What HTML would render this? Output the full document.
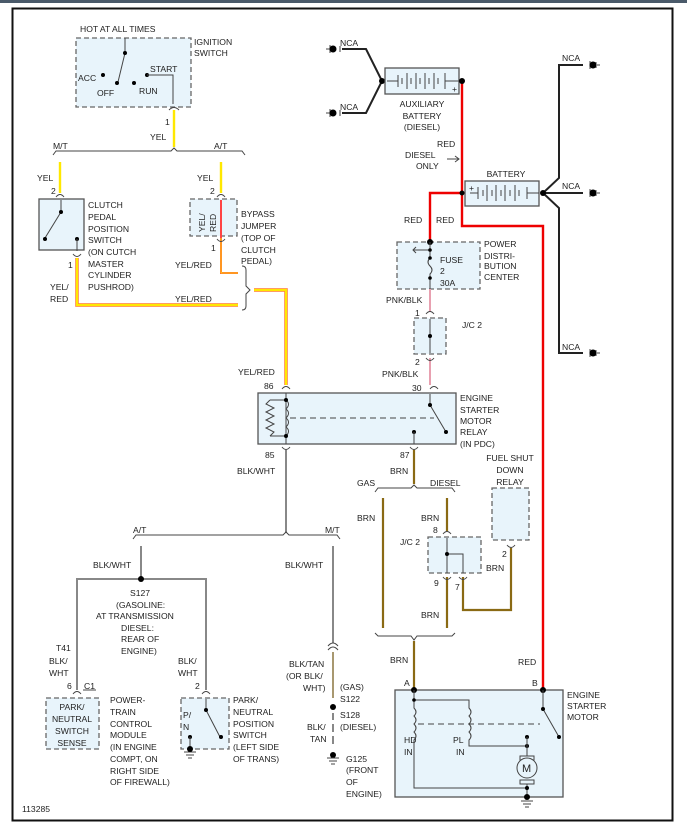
<!DOCTYPE html>
<html><head><meta charset="utf-8"><style>
html,body{margin:0;padding:0;background:#fff}
svg{display:block}
text{font-family:"Liberation Sans",Arial,sans-serif;font-size:8.6px;fill:#222}
.b{fill:#e8f4fb;stroke:#666;stroke-width:1.3;stroke-dasharray:5,3}
.s{fill:#e8f4fb;stroke:#555;stroke-width:1.3}
.g{stroke:#888;stroke-width:2;fill:none}
.k{stroke:#222;stroke-width:2;fill:none}
.br{stroke:#8a6a14;stroke-width:2.2;fill:none}
.r{stroke:#e00;stroke-width:2.4;fill:none}
.y{stroke:#ffe800;stroke-width:2.4;fill:none}
.pk{stroke:#e8a0b0;stroke-width:2;fill:none}
.t{stroke:#444;stroke-width:1;fill:none}
</style></head><body>
<svg width="687" height="831" viewBox="0 0 687 831" xmlns="http://www.w3.org/2000/svg">
<rect x="0" y="0" width="687" height="3" fill="#4a5a6a"/>
<rect x="12.5" y="8.5" width="660" height="812" fill="none" stroke="#111" stroke-width="2"/>

<!-- Ignition switch -->
<rect class="b" x="76" y="38" width="115" height="69"/>
<text x="80" y="32">HOT AT ALL TIMES</text>
<text x="194" y="45">IGNITION</text><text x="194" y="56">SWITCH</text>
<path class="t" d="M125 38 V53 L118 82"/><circle cx="125" cy="53" r="2"/><circle cx="117" cy="83" r="2"/>
<circle cx="103" cy="75" r="2"/><circle cx="134" cy="83" r="2"/><circle cx="147" cy="75" r="2"/>
<path class="t" d="M147 75 H173 V104"/>
<text x="78" y="81">ACC</text><text x="97" y="96">OFF</text><text x="139" y="94">RUN</text><text x="150" y="72">START</text>
<path class="y" d="M174 110 V147"/><path class="t" d="M169 110 q5 -5 10 0"/>
<text x="165" y="125">1</text><text x="150" y="140">YEL</text>
<path class="t" d="M53 155 l3 -4 H171 l3 -3 l3 3 H242 l3 4"/>
<text x="53" y="149">M/T</text><text x="214" y="149">A/T</text>

<!-- clutch switch -->
<path class="y" d="M60 162 V193"/>
<text x="37" y="181">YEL</text><text x="51" y="194">2</text>
<path class="t" d="M56 197 q4 -5 8 0"/>
<rect class="s" x="39" y="199" width="45" height="51"/>
<path class="t" d="M61 200 V210 M61 212 L45 238"/><circle cx="61" cy="212" r="2"/><circle cx="45" cy="239" r="2"/><circle cx="77" cy="239" r="2"/>
<path class="t" d="M77 239 V251"/>
<text x="88" y="208">CLUTCH</text><text x="88" y="220">PEDAL</text><text x="88" y="232">POSITION</text><text x="88" y="243">SWITCH</text><text x="88" y="255">(ON CUTCH</text><text x="88" y="267">MASTER</text><text x="88" y="278">CYLINDER</text><text x="88" y="290">PUSHROD)</text>
<path class="t" d="M73 254 q4 5 8 0"/>
<path d="M77 258 V305 H238" stroke="#f44" stroke-width="3.4" fill="none"/><path class="y" d="M77 258 V305 H238" stroke-width="1.8"/>
<text x="68" y="268">1</text><text x="50" y="290">YEL/</text><text x="50" y="302">RED</text><text x="175" y="302">YEL/RED</text>

<!-- bypass jumper -->
<path class="y" d="M221 162 V193"/>
<text x="197" y="181">YEL</text><text x="210" y="194">2</text>
<path class="t" d="M217 197 q4 -5 8 0"/>
<rect class="b" x="190" y="199" width="47" height="37"/>
<text transform="translate(205,232) rotate(-90)">YEL/</text><text transform="translate(216,232) rotate(-90)">RED</text>
<path d="M221 200 V273 H238" stroke="#f44" stroke-width="2" fill="none"/>
<path d="M221 238 V273 H238" stroke="#ffe800" stroke-width="1" fill="none"/>
<path class="t" d="M217 239 q4 5 8 0"/>
<text x="211" y="251">1</text><text x="175" y="268">YEL/RED</text>
<text x="241" y="217">BYPASS</text><text x="241" y="229">JUMPER</text><text x="241" y="241">(TOP OF</text><text x="241" y="253">CLUTCH</text><text x="241" y="264">PEDAL)</text>
<path class="t" d="M242 266 q4 0 4 4 V286 l4 4 l-4 4 V306 q0 4 -4 4"/>
<path d="M254 290 H286 V385" stroke="#f44" stroke-width="3.4" fill="none"/><path class="y" d="M254 290 H286 V385" stroke-width="1.8"/>
<text x="238" y="375">YEL/RED</text><text x="264" y="389">86</text>
<path class="t" d="M282 389 q4 -5 8 0 M430 389 q4 -5 8 0"/>

<!-- relay -->
<rect class="s" x="258" y="393" width="198" height="51"/>
<path class="t" d="M286 393 V444 M270 400 H286 M270 436 H286 M270 400 l-4 4 l8 4 l-8 4 l8 4 l-8 4 l8 4 l-8 4 l8 4 l-4 4"/>
<path class="t" d="M286 400 q5 4 0 9 q5 4 0 9 q5 4 0 9 q5 4 0 9" />
<circle cx="286" cy="400" r="2"/><circle cx="286" cy="436" r="2"/>
<path class="t" d="M290 418 H434" stroke-dasharray="6,4"/>
<path class="t" d="M430 394 V405 L446 432"/><circle cx="430" cy="405" r="2"/><circle cx="446" cy="432" r="2"/>
<circle cx="414" cy="432" r="2"/><path class="t" d="M414 432 V444"/>
<text x="460" y="401">ENGINE</text><text x="460" y="413">STARTER</text><text x="460" y="424">MOTOR</text><text x="460" y="435">RELAY</text><text x="460" y="447">(IN PDC)</text>
<path class="t" d="M282 447 q4 5 8 0 M410 447 q4 5 8 0"/>
<text x="265" y="458">85</text><text x="400" y="458">87</text>
<path class="g" d="M286 450 V533"/><text x="237" y="474">BLK/WHT</text>
<path class="t" d="M133 539 l3 -4 H283 l3 -3 l3 3 H337 l3 4"/>
<text x="133" y="533">A/T</text><text x="325" y="533">M/T</text>

<!-- A/T branch -->
<path class="g" d="M141 546 V579 M77 690 V579 H206 V690"/><circle cx="141" cy="579" r="3"/>
<text x="93" y="568">BLK/WHT</text>
<text x="130" y="596">S127</text><text x="116" y="608">(GASOLINE:</text><text x="96" y="619">AT TRANSMISSION</text><text x="121" y="631">DIESEL:</text><text x="121" y="642">REAR OF</text><text x="121" y="654">ENGINE)</text>
<text x="56" y="651">T41</text><text x="49" y="664">BLK/</text><text x="49" y="676">WHT</text><text x="67" y="689">6</text><text x="84" y="689">C1</text>
<path class="t" d="M83 690 H96"/>
<text x="178" y="664">BLK/</text><text x="178" y="676">WHT</text><text x="195" y="689">2</text>
<path class="t" d="M73 694 q4 -5 8 0 M202 694 q4 -5 8 0"/>
<rect class="b" x="46" y="698" width="53" height="51"/>
<text x="72" y="710" text-anchor="middle">PARK/</text><text x="72" y="722" text-anchor="middle">NEUTRAL</text><text x="72" y="734" text-anchor="middle">SWITCH</text><text x="72" y="746" text-anchor="middle">SENSE</text>
<text x="110" y="703">POWER-</text><text x="110" y="715">TRAIN</text><text x="110" y="727">CONTROL</text><text x="110" y="738">MODULE</text><text x="110" y="750">(IN ENGINE</text><text x="110" y="762">COMPT, ON</text><text x="110" y="774">RIGHT SIDE</text><text x="110" y="785">OF FIREWALL)</text>
<rect class="b" x="181" y="698" width="48" height="51"/>
<text x="183" y="718">P/</text><text x="183" y="730">N</text>
<path class="t" d="M206 699 V710 L220 737"/><circle cx="206" cy="710" r="2"/><circle cx="221" cy="737" r="2"/>
<circle cx="190" cy="737" r="2"/><path class="t" d="M190 737 V750 M184 752 H196 M186 755 H194 M188 758 H192"/><circle cx="190" cy="749" r="3"/>
<text x="233" y="703">PARK/</text><text x="233" y="715">NEUTRAL</text><text x="233" y="727">POSITION</text><text x="233" y="738">SWITCH</text><text x="233" y="750">(LEFT SIDE</text><text x="233" y="762">OF TRANS)</text>

<!-- M/T branch -->
<path class="g" d="M333 546 V643"/><text x="285" y="568">BLK/WHT</text>
<path class="t" d="M328 646 q5 -6 10 0 M328 650 q5 -6 10 0"/>
<path d="M333 652 V698" stroke="#a89870" stroke-width="2"/>
<circle cx="333" cy="707" r="3"/>
<path d="M333 713 V720 M333 724 V732 M333 736 V744" stroke="#888" stroke-width="2"/>
<circle cx="333" cy="755" r="3"/><path class="t" d="M327 758 H339 M329 761 H337 M331 764 H335"/>
<text x="289" y="667">BLK/TAN</text><text x="286" y="679">(OR BLK/</text><text x="303" y="691">WHT)</text>
<text x="340" y="690">(GAS)</text><text x="340" y="702">S122</text><text x="340" y="718">S128</text><text x="340" y="730">(DIESEL)</text>
<text x="307" y="730">BLK/</text><text x="310" y="742">TAN</text>
<text x="346" y="762">G125</text><text x="346" y="773">(FRONT</text><text x="346" y="785">OF</text><text x="346" y="797">ENGINE)</text>

<!-- aux battery -->
<path class="k" d="M342 49 H366 L382 81 L366 113 H342"/><circle cx="382" cy="81" r="3"/>
<path class="t" d="M326 49 H330 M330 45 V53 M340 46 V52"/><circle cx="333" cy="49" r="3.5"/>
<path class="t" d="M326 113 H330 M330 109 V117 M340 110 V116"/><circle cx="333" cy="113" r="3.5"/>
<text x="340" y="46">NCA</text><text x="340" y="110">NCA</text>
<rect class="s" x="385" y="68" width="74" height="26"/>
<path class="t" d="M387 81 H398 M398 75 V87 M402 78 V84 M407 73 V89 M411 78 V84 M416 73 V89 M420 78 V84 M425 73 V89 M429 78 V84 M434 73 V89 M438 78 V84 M445 73 V89 M445 81 H459"/>
<text x="452" y="92">+</text>
<text x="422" y="107" text-anchor="middle">AUXILIARY</text><text x="422" y="119" text-anchor="middle">BATTERY</text><text x="422" y="130" text-anchor="middle">(DIESEL)</text>
<path class="r" d="M462 81 V226 H543 V690"/><circle cx="462" cy="81" r="3"/>
<text x="437" y="147">RED</text><text x="405" y="158">DIESEL</text><text x="416" y="169">ONLY</text>
<path class="t" d="M447 159 H459 M455 156 l4 3 l-4 3"/>
<!-- battery -->
<path class="r" d="M430 242 V193 H465"/><circle cx="462" cy="193" r="2.5"/>
<rect class="s" x="465" y="181" width="74" height="25"/>
<text x="469" y="191">+</text>
<path class="t" d="M470 193 H478 M478 187 V199 M483 190 V196 M487 185 V201 M492 190 V196 M496 185 V201 M501 190 V196 M505 185 V201 M510 190 V196 M515 185 V201 M519 190 V196 M527 187 V199 M527 193 H539"/>
<text x="506" y="177" text-anchor="middle">BATTERY</text>
<path class="k" d="M543 193 L559 178 V65 H583 M543 193 H583 M543 193 L559 208 V353 H583"/><circle cx="543" cy="193" r="3"/>
<text x="562" y="61">NCA</text><text x="562" y="189">NCA</text><text x="562" y="350">NCA</text>
<g class="t"><path d="M597 65 H600 M596 62 V68 M590 61 V69"/><path d="M597 193 H600 M596 190 V196 M590 189 V197"/><path d="M597 353 H600 M596 350 V356 M590 349 V357"/></g>
<circle cx="593" cy="65" r="3.5"/><circle cx="593" cy="193" r="3.5"/><circle cx="593" cy="353" r="3.5"/>
<text x="404" y="223">RED</text><text x="436" y="223">RED</text>

<!-- PDC -->
<rect class="b" x="397" y="242" width="83" height="47"/>
<circle cx="430" cy="242" r="3"/>
<path class="t" d="M430 242 V250 M430 250 H413 M416 247 l-3 3 l3 3 M430 250 V258 q-4 4 0 8 q4 4 0 8 V289"/>
<circle cx="430" cy="250" r="1.8"/><circle cx="430" cy="258" r="1.8"/><circle cx="430" cy="278" r="1.8"/>
<text x="440" y="263">FUSE</text><text x="440" y="274">2</text><text x="440" y="286">30A</text>
<text x="484" y="247">POWER</text><text x="484" y="259">DISTRI-</text><text x="484" y="269">BUTION</text><text x="484" y="280">CENTER</text>
<path class="pk" d="M430 289 V312 M430 358 V385"/>
<text x="386" y="303">PNK/BLK</text><text x="415" y="316">1</text>
<path class="t" d="M426 314 q4 -5 8 0 M426 358 q4 5 8 0"/>
<rect class="b" x="414" y="318" width="32" height="36"/>
<path class="t" d="M430 319 V353"/><circle cx="430" cy="336" r="2"/>
<text x="462" y="328">J/C 2</text>
<text x="415" y="365">2</text><text x="382" y="377">PNK/BLK</text><text x="412" y="391">30</text>

<!-- 87 BRN -->
<path class="br" d="M414 450 V484"/><text x="390" y="474">BRN</text>
<path class="t" d="M375 492 l3 -4 H411 l3 -3 l3 3 H452 l3 4"/>
<text x="357" y="486">GAS</text><text x="430" y="486">DIESEL</text>
<path class="br" d="M383 498 V628 M447 498 V531 M447 577 V628 M463 577 V610 H511 V548"/>
<text x="357" y="521">BRN</text><text x="421" y="521">BRN</text><text x="433" y="533">8</text>
<path class="t" d="M443 534 q4 -5 8 0 M443 577 q4 5 8 0 M459 577 q4 5 8 0 M507 545 q4 5 8 0"/>
<rect class="b" x="428" y="537" width="53" height="36"/>
<path class="t" d="M447 538 V573 M447 554 H463 V573"/><circle cx="447" cy="554" r="2"/>
<text x="400" y="545">J/C 2</text><text x="434" y="586">9</text><text x="455" y="590">7</text>
<text x="486" y="571">BRN</text><text x="502" y="557">2</text>
<rect class="b" x="492" y="488" width="37" height="52"/>
<text x="510" y="461" text-anchor="middle">FUEL SHUT</text><text x="510" y="473" text-anchor="middle">DOWN</text><text x="510" y="485" text-anchor="middle">RELAY</text>
<text x="421" y="618">BRN</text>
<path class="t" d="M375 633 l3 3 H411 l3 4 l3 -4 H452 l3 -3"/>
<path class="br" d="M414 641 V690"/>
<text x="390" y="663">BRN</text><text x="404" y="686">A</text><text x="518" y="665">RED</text><text x="532" y="686">B</text>

<!-- starter -->
<rect class="s" x="395" y="690" width="168" height="107"/>
<circle cx="414" cy="690" r="3"/><circle cx="543" cy="690" r="3"/>
<path class="t" d="M414 690 V700 H469 V708 q4 4 0 8 q4 4 0 8 q4 4 0 8 q4 4 0 8 V746 H527"/>
<path class="t" d="M414 700 V708 q4 4 0 8 q4 4 0 8 q4 4 0 8 q4 4 0 8 V788 H527"/>
<circle cx="414" cy="700" r="1.8"/>
<path class="t" d="M418 724 H540" stroke-dasharray="6,4"/>
<path class="t" d="M543 690 V709 L559 737"/><circle cx="543" cy="709" r="2"/><circle cx="559" cy="737" r="2"/>
<text x="404" y="743">HD</text><text x="404" y="755">IN</text><text x="453" y="743">PL</text><text x="456" y="755">IN</text>
<circle cx="527" cy="737" r="2"/><circle cx="527" cy="746" r="2"/>
<path class="t" d="M527 737 V756 M520 756 H534 V760 H520 Z M520 780 H534 V784 H520 Z M527 784 V799"/>
<circle cx="527" cy="768" r="10" fill="#e8f4fb" stroke="#444"/>
<text x="522" y="772" style="font-size:11px">M</text>
<circle cx="527" cy="788" r="2"/><circle cx="527" cy="797" r="3"/>
<path class="t" d="M521 801 H533 M523 804 H531 M525 807 H529"/>
<text x="567" y="698">ENGINE</text><text x="567" y="709">STARTER</text><text x="567" y="720">MOTOR</text>
<text x="22" y="812">113285</text>
</svg>
</body></html>
